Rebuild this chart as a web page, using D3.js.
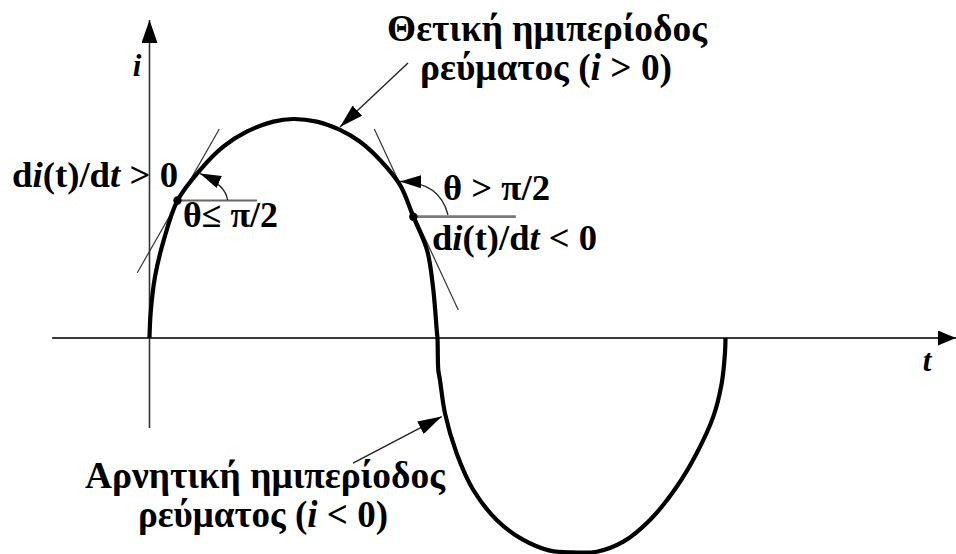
<!DOCTYPE html>
<html>
<head>
<meta charset="utf-8">
<script src="https://cdn.jsdelivr.net/npm/d3@7"></script>
</head>
<body style="margin:0">
<svg id="chart" width="956" height="554"></svg>
<script>
// One period of the alternating current, t in periods, i relative to the peak value
const tValues = [0, 0.002, 0.0095, 0.0234, 0.0486, 0.0877, 0.1281, 0.1688, 0.2149, 0.2497, 0.2903,
                 0.3307, 0.3655, 0.4002, 0.4349, 0.458, 0.4818, 0.4922, 0.4991, 0.5,
                 0.5014, 0.5043, 0.513, 0.5333, 0.5622, 0.6028, 0.649, 0.6953, 0.7352, 0.7764,
                 0.8226, 0.8689, 0.9153, 0.95, 0.9788, 0.9934, 0.9991, 1];
const iValues = [0, 0.114, 0.279, 0.434, 0.628, 0.767, 0.874, 0.942, 0.988, 1.0, 0.988,
                 0.95, 0.896, 0.813, 0.699, 0.554, 0.402, 0.233, 0.023, 0,
                 -0.146, -0.192, -0.344, -0.527, -0.694, -0.831, -0.922, -0.971, -0.979, -0.976,
                 -0.93, -0.831, -0.679, -0.526, -0.359, -0.207, -0.068, 0];

// Axis extents (t, i)
const tAxis = [-0.169, 1.4];
const iAxis = [-0.411, 1.452];

// Points where the slope is shown, with their tangent lines
const slopePoints = [[0.0486, 0.628], [0.458, 0.554]];
const tangentLeft = [[-0.0212, 0.298], [0.1212, 0.954]];
const tangentRight = [[0.3903, 0.954], [0.5361, 0.128]];
const horizontalEnds = [0.1866, 0.636];

// Angle arcs: start, control, arrow tip
const angleLeft = [[0.1354, 0.63], [0.1328, 0.699], [0.0877, 0.751]];
const angleRight = [[0.5182, 0.562], [0.5043, 0.712], [0.4349, 0.715]];

// Callout arrows for the two half-periods: tail, tip
const calloutPositive = [[0.4488, 1.256], [0.3307, 0.963]];
const calloutNegative = [[0.3533, -0.571], [0.5073, -0.359]];

const svg = d3.select("#chart");
const x = d3.scaleLinear().domain([0, 1]).range([149.5, 725.5]);
const y = d3.scaleLinear().domain([-1, 1]).range([557, 119]);

const ff = '"Liberation Serif"';

// Text layer first, drawing layer after it
const textLayer = svg.append("g").attr("class", "labels");
const layer = svg.append("g").attr("class", "drawing");

// Width of a run list in the label face, measured on a canvas
const ctx = document.createElement("canvas").getContext("2d");
function runsWidth(runs, size) {
  let w = 0;
  runs.forEach(r => {
    ctx.font = `${r[1] ? "italic " : ""}bold ${size}px "Liberation Serif"`;
    w += ctx.measureText(r[0]).width;
  });
  return w;
}

// Labels: each is a list of [text, italic] runs, sized to a given width
function label(runs, px, py, anchor, width, size) {
  const fs = width ? 30 * width / runsWidth(runs, 30) : size;
  const t = textLayer.append("text")
    .attr("x", px).attr("y", py)
    .attr("text-anchor", anchor)
    .attr("font-family", ff)
    .attr("font-weight", "bold")
    .attr("font-size", fs.toFixed(2));
  runs.forEach(r => {
    t.append("tspan")
      .attr("font-family", ff)
      .attr("font-style", r[1] ? "italic" : "normal")
      .text(r[0]);
  });
  return t;
}

label([["Θετική ημιπερίοδος", false]], 547, 41, "middle", 320);
label([["ρεύματος (", false], ["i", true], [" > 0)", false]], 546, 80, "middle", 252);
label([["Αρνητική ημιπερίοδος", false]], 265, 488, "middle", 360);
label([["ρεύματος (", false], ["i", true], [" < 0)", false]], 263, 527, "middle", 250);
label([["d", false], ["i", true], ["(t)/d", false], ["t", true], [" > 0", false]], 12, 187, "start", 166);
label([["θ≤ π/2", false]], 183, 227, "start", 95);
label([["θ > π/2", false]], 443, 200, "start", 107);
label([["d", false], ["i", true], ["(t)/d", false], ["t", true], [" < 0", false]], 432, 250, "start", 165);
label([["i", true]], 137, 76, "middle", null, 31);
label([["t", true]], 927, 371, "middle", null, 31);

// Arrowhead markers (tip sits at the path end)
const defs = svg.append("defs");
function marker(id, len, half) {
  defs.append("marker")
    .attr("id", id)
    .attr("markerUnits", "userSpaceOnUse")
    .attr("viewBox", `0 ${-half} ${len} ${2 * half}`)
    .attr("refX", len).attr("refY", 0)
    .attr("markerWidth", len).attr("markerHeight", 2 * half)
    .attr("orient", "auto")
    .append("path")
    .attr("d", `M0,${-half}L${len},0L0,${half}Z`)
    .attr("fill", "#000");
}
marker("axisV", 23, 8);
marker("axisH", 18, 7.5);
marker("callout", 24, 7);
marker("angle", 21, 6.5);

// Axes
layer.append("line")
  .attr("x1", x(tAxis[0])).attr("x2", x(tAxis[1]))
  .attr("y1", y(0)).attr("y2", y(0))
  .attr("stroke", "#3a3a3a").attr("stroke-width", 2)
  .attr("marker-end", "url(#axisH)");
layer.append("line")
  .attr("x1", x(0)).attr("x2", x(0))
  .attr("y1", y(iAxis[0])).attr("y2", y(iAxis[1]))
  .attr("stroke", "#333").attr("stroke-width", 1.6)
  .attr("marker-end", "url(#axisV)");

// Horizontal references at the slope points
slopePoints.forEach((p, k) => {
  layer.append("line")
    .attr("x1", x(p[0])).attr("x2", x(horizontalEnds[k]))
    .attr("y1", y(p[1])).attr("y2", y(p[1]))
    .attr("stroke", k === 0 ? "#666" : "#7a7a7a")
    .attr("stroke-width", k === 0 ? 2 : 2.6);
});

// Tangent lines
[tangentLeft, tangentRight].forEach(seg => {
  layer.append("line")
    .attr("x1", x(seg[0][0])).attr("y1", y(seg[0][1]))
    .attr("x2", x(seg[1][0])).attr("y2", y(seg[1][1]))
    .attr("stroke", "#333").attr("stroke-width", 1.2);
});

// Current waveform
const wave = d3.zip(tValues, iValues);
layer.append("path")
  .datum(wave)
  .attr("d", d3.line().x(d => x(d[0])).y(d => y(d[1])).curve(d3.curveCatmullRom.alpha(0.5)))
  .attr("fill", "none").attr("stroke", "#000").attr("stroke-width", 4.2);

// Slope points
layer.selectAll("circle.pt").data(slopePoints).join("circle")
  .attr("class", "pt")
  .attr("cx", d => x(d[0])).attr("cy", d => y(d[1])).attr("r", 4.2)
  .attr("fill", "#000");

// Angle arcs
[angleLeft, angleRight].forEach(a => {
  const [s, c, e] = a;
  layer.append("path")
    .attr("d", `M${x(s[0])},${y(s[1])}Q${x(c[0])},${y(c[1])} ${x(e[0])},${y(e[1])}`)
    .attr("fill", "none").attr("stroke", "#222").attr("stroke-width", 1.4)
    .attr("marker-end", "url(#angle)");
});

// Callout arrows
[calloutPositive, calloutNegative].forEach(a => {
  layer.append("line")
    .attr("x1", x(a[0][0])).attr("y1", y(a[0][1]))
    .attr("x2", x(a[1][0])).attr("y2", y(a[1][1]))
    .attr("stroke", "#222").attr("stroke-width", 1.4)
    .attr("marker-end", "url(#callout)");
});
</script>
</body>
</html>
